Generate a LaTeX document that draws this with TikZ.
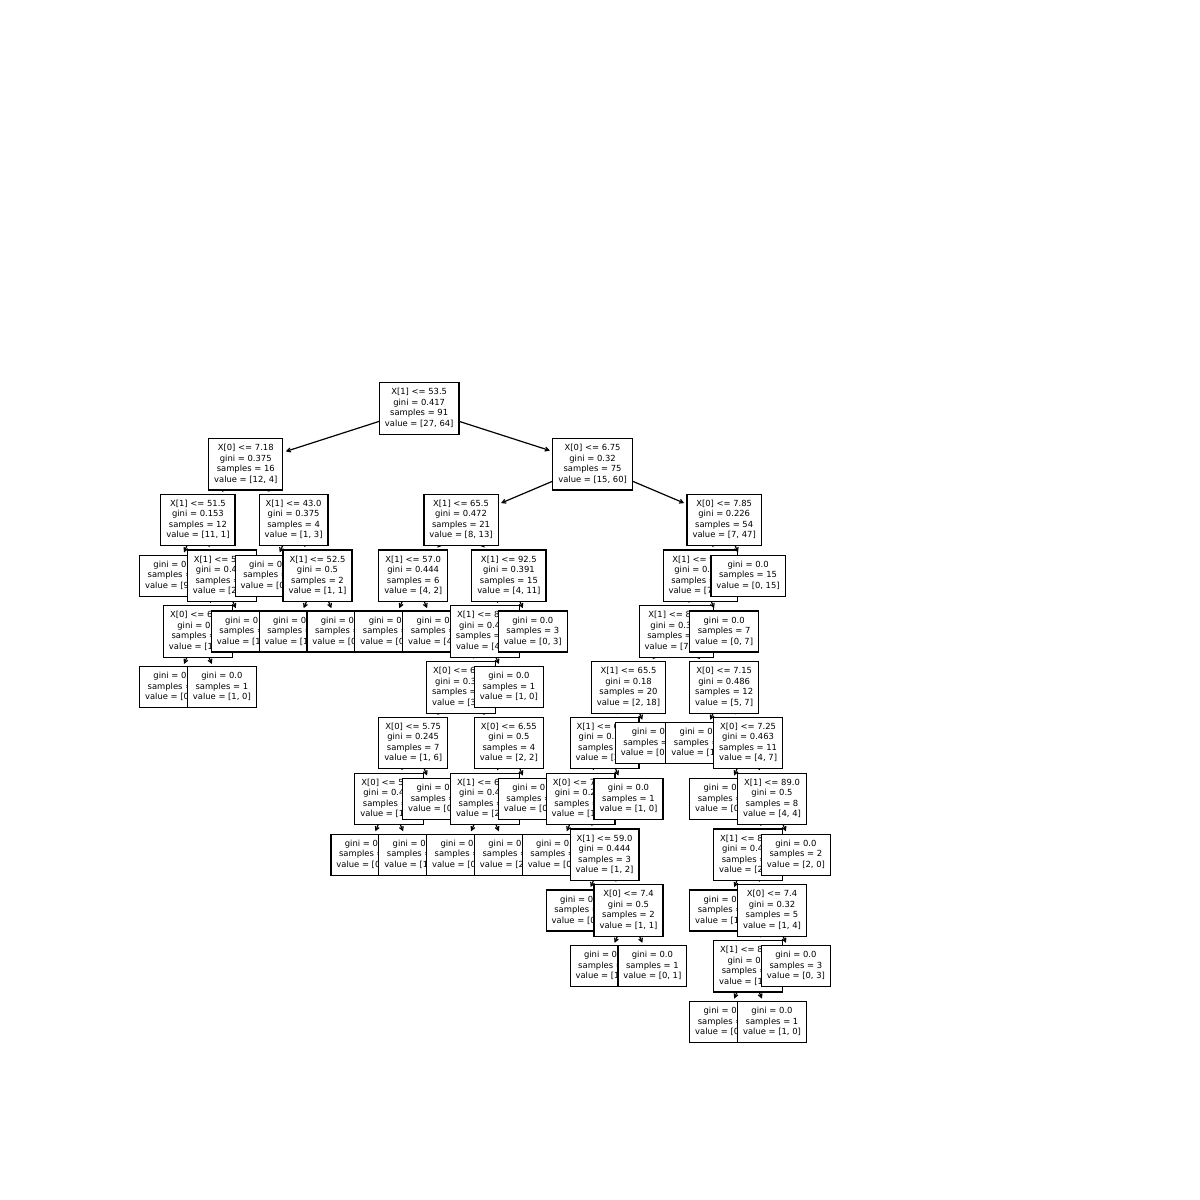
\documentclass[tikz,border=0pt]{standalone}
\usepackage{fontspec}
\setmainfont{DejaVu Sans}
\usetikzlibrary{arrows.meta}
\tikzset{
  tbox/.style={rectangle, draw=black, fill=white, line width=1.2pt,
    inner xsep=5.5pt, inner ysep=4.75pt, font=\fontsize{8.4}{10.5}\selectfont},
  tarrow/.style={line width=1.2pt, -{Straight Barb[length=3.6pt,width=4pt]}, shorten >=2.5pt}
}
\newcommand\mkc[3]{\coordinate (c#1) at ({174+23.92*(#2)},{-(408.5+55.77*(#3))});}
\newcommand\mknode[5]{%
  \node[tbox,draw=none,fill=none] (#1) at ({174+23.92*(#3)},{-(408.5+55.77*(#4))}) {\phantom{\begin{tabular}{@{}c@{}}#5\end{tabular}}};
  \draw[tarrow] (c#2) -- (#1);
  \node[tbox] (#1) at ({174+23.92*(#3)},{-(408.5+55.77*(#4))}) {\begin{tabular}{@{}c@{}}#5\end{tabular}};
}
\newcommand\lf[2]{gini = 0.0\\samples = #1\\value = [#2]}
\newcommand\spl[4]{#1\\gini = #2\\samples = #3\\value = [#4]}
\begin{document}
\begin{tikzpicture}[x=1pt,y=1pt]
\useasboundingbox (0,0) rectangle (1200,-1200);
% centres of all nodes
\mkc{r}{10.25}{0}
\mkc{a}{3}{1} \mkc{b}{17.5}{1}
\mkc{al}{1}{2} \mkc{ar}{5}{2} \mkc{bl}{12}{2} \mkc{br}{23}{2}
\mkc{alr}{2}{3} \mkc{arr}{6}{3} \mkc{bll}{10}{3} \mkc{blr}{14}{3} \mkc{brl}{22}{3}
\mkc{alrl}{1}{4} \mkc{blrl}{13}{4} \mkc{brll}{21}{4}
\mkc{blrll}{12}{5} \mkc{brlll}{19}{5} \mkc{brllr}{23}{5}
\mkc{n6a}{10}{6} \mkc{n6b}{14}{6} \mkc{n6c}{18}{6} \mkc{n6f}{24}{6}
\mkc{n7a}{9}{7} \mkc{n7c}{13}{7} \mkc{n7e}{17}{7} \mkc{n7h}{25}{7}
\mkc{n8f}{18}{8} \mkc{n8g}{24}{8}
\mkc{n9b}{19}{9} \mkc{n9d}{25}{9}
\mkc{n10c}{24}{10}
% depth 11
\mknode{n11a}{n10c}{23}{11}{\lf{1}{0, 1}}
\mknode{n11b}{n10c}{25}{11}{\lf{1}{1, 0}}
% depth 10
\mknode{n10a}{n9b}{18}{10}{\lf{1}{1, 0}}
\mknode{n10b}{n9b}{20}{10}{\lf{1}{0, 1}}
\mknode{n10c}{n9d}{24}{10}{\spl{X[1] <= 80.5}{0.5}{2}{1, 1}}
\mknode{n10d}{n9d}{26}{10}{\lf{3}{0, 3}}
% depth 9
\mknode{n9a}{n8f}{17}{9}{\lf{1}{0, 1}}
\mknode{n9b}{n8f}{19}{9}{\spl{X[0] <= 7.4}{0.5}{2}{1, 1}}
\mknode{n9c}{n8g}{23}{9}{\lf{1}{1, 0}}
\mknode{n9d}{n8g}{25}{9}{\spl{X[0] <= 7.4}{0.32}{5}{1, 4}}
% depth 8
\mknode{n8a}{n7a}{8}{8}{\lf{2}{0, 2}}
\mknode{n8b}{n7a}{10}{8}{\lf{1}{1, 0}}
\mknode{n8c}{n7c}{12}{8}{\lf{1}{0, 1}}
\mknode{n8d}{n7c}{14}{8}{\lf{2}{2, 0}}
\mknode{n8e}{n7e}{16}{8}{\lf{4}{0, 4}}
\mknode{n8f}{n7e}{18}{8}{\spl{X[1] <= 59.0}{0.444}{3}{1, 2}}
\mknode{n8g}{n7h}{24}{8}{\spl{X[1] <= 86.0}{0.444}{6}{2, 4}}
\mknode{n8h}{n7h}{26}{8}{\lf{2}{2, 0}}
% depth 7
\mknode{n7a}{n6a}{9}{7}{\spl{X[0] <= 5.35}{0.444}{3}{1, 2}}
\mknode{n7b}{n6a}{11}{7}{\lf{4}{0, 4}}
\mknode{n7c}{n6b}{13}{7}{\spl{X[1] <= 69.5}{0.444}{3}{2, 1}}
\mknode{n7d}{n6b}{15}{7}{\lf{1}{0, 1}}
\mknode{n7e}{n6c}{17}{7}{\spl{X[0] <= 7.05}{0.245}{7}{1, 6}}
\mknode{n7f}{n6c}{19}{7}{\lf{1}{1, 0}}
\mknode{n7g}{n6f}{23}{7}{\lf{3}{0, 3}}
\mknode{n7h}{n6f}{25}{7}{\spl{X[1] <= 89.0}{0.5}{8}{4, 4}}
% depth 6
\mknode{n6a}{blrll}{10}{6}{\spl{X[0] <= 5.75}{0.245}{7}{1, 6}}
\mknode{n6b}{blrll}{14}{6}{\spl{X[0] <= 6.55}{0.5}{4}{2, 2}}
\mknode{n6c}{brlll}{18}{6}{\spl{X[1] <= 60.5}{0.375}{8}{2, 6}}
\mknode{n6d}{brlll}{20}{6}{\lf{12}{0, 12}}
\mknode{n6e}{brllr}{22}{6}{\lf{1}{1, 0}}
\mknode{n6f}{brllr}{24}{6}{\spl{X[0] <= 7.25}{0.463}{11}{4, 7}}
% depth 5
\mknode{alrll}{alrl}{0}{5}{\lf{1}{0, 1}}
\mknode{alrlr}{alrl}{2}{5}{\lf{1}{1, 0}}
\mknode{blrll}{blrl}{12}{5}{\spl{X[0] <= 6.15}{0.397}{11}{3, 8}}
\mknode{blrlr}{blrl}{14}{5}{\lf{1}{1, 0}}
\mknode{brlll}{brll}{19}{5}{\spl{X[1] <= 65.5}{0.18}{20}{2, 18}}
\mknode{brllr}{brll}{23}{5}{\spl{X[0] <= 7.15}{0.486}{12}{5, 7}}
% depth 4
\mknode{alrl}{alr}{1}{4}{\spl{X[0] <= 6.85}{0.5}{2}{1, 1}}
\mknode{alrr}{alr}{3}{4}{\lf{1}{1, 0}}
\mknode{arrl}{arr}{5}{4}{\lf{1}{1, 0}}
\mknode{arrr}{arr}{7}{4}{\lf{1}{0, 1}}
\mknode{blll}{bll}{9}{4}{\lf{2}{0, 2}}
\mknode{bllr}{bll}{11}{4}{\lf{4}{4, 0}}
\mknode{blrl}{blr}{13}{4}{\spl{X[1] <= 85.5}{0.444}{12}{4, 8}}
\mknode{blrr}{blr}{15}{4}{\lf{3}{0, 3}}
\mknode{brll}{brl}{21}{4}{\spl{X[1] <= 83.5}{0.342}{32}{7, 25}}
\mknode{brlr}{brl}{23}{4}{\lf{7}{0, 7}}
% depth 3
\mknode{all}{al}{0}{3}{\lf{9}{9, 0}}
\mknode{alr}{al}{2}{3}{\spl{X[1] <= 52.5}{0.444}{3}{2, 1}}
\mknode{arl}{ar}{4}{3}{\lf{2}{0, 2}}
\mknode{arr}{ar}{6}{3}{\spl{X[1] <= 52.5}{0.5}{2}{1, 1}}
\mknode{bll}{bl}{10}{3}{\spl{X[1] <= 57.0}{0.444}{6}{4, 2}}
\mknode{blr}{bl}{14}{3}{\spl{X[1] <= 92.5}{0.391}{15}{4, 11}}
\mknode{brl}{br}{22}{3}{\spl{X[1] <= 96.5}{0.295}{39}{7, 32}}
\mknode{brr}{br}{24}{3}{\lf{15}{0, 15}}
% depth 2
\mknode{al}{a}{1}{2}{\spl{X[1] <= 51.5}{0.153}{12}{11, 1}}
\mknode{ar}{a}{5}{2}{\spl{X[1] <= 43.0}{0.375}{4}{1, 3}}
\mknode{bl}{b}{12}{2}{\spl{X[1] <= 65.5}{0.472}{21}{8, 13}}
\mknode{br}{b}{23}{2}{\spl{X[0] <= 7.85}{0.226}{54}{7, 47}}
% depth 1
\mknode{a}{r}{3}{1}{\spl{X[0] <= 7.18}{0.375}{16}{12, 4}}
\mknode{b}{r}{17.5}{1}{\spl{X[0] <= 6.75}{0.32}{75}{15, 60}}
% depth 0
\node[tbox] (r) at (cr) {\begin{tabular}{@{}c@{}}\spl{X[1] <= 53.5}{0.417}{91}{27, 64}\end{tabular}};
\end{tikzpicture}
\end{document}
